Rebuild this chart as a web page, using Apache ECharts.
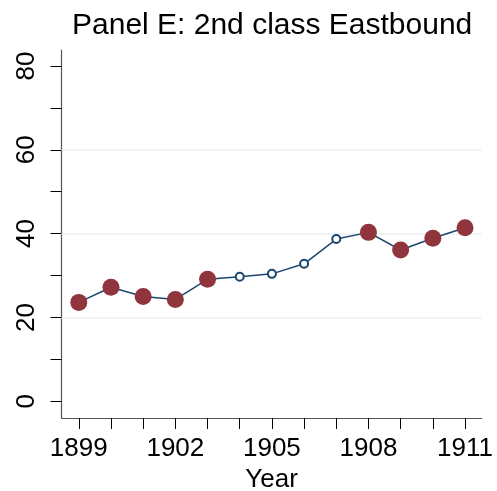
<!DOCTYPE html>
<html><head><meta charset="utf-8">
<script src="https://cdn.jsdelivr.net/npm/echarts@6/dist/echarts.min.js"></script>
<style>html,body{margin:0;padding:0;background:#fff}#c{width:497px;height:491px}</style>
</head><body><div id="c"></div>
<script>
const titleText = 'Panel E: 2nd class Eastbound';
const xName = 'Year';
const years = [1899,1900,1901,1902,1903,1904,1905,1906,1907,1908,1909,1910,1911];
const values = [23.6,27.2,25.0,24.3,29.1,29.7,30.4,32.8,38.7,40.3,36.1,38.9,41.4];
const filled = [1,1,1,1,1,0,0,0,0,1,1,1,1];
const xTicks = [1899,1900,1901,1902,1903,1904,1905,1906,1907,1908,1909,1910,1911];
const xTickLabels = [1899,1902,1905,1908,1911];
const yTicks = [0,10,20,30,40,50,60,70,80];
const yTickLabels = [0,20,40,60,80];
const yGridLines = [20,40,60];

const FONT = "'Liberation Sans', Arial, Helvetica, sans-serif";
const lineData = years.map((y,i)=>[y, values[i]]);
const dotData = years.map((y,i)=>[y, values[i]]).filter((d,i)=>filled[i]);

const chart = echarts.init(document.getElementById('c'), null, {renderer:'canvas'});
chart.setOption({
  animation:false,
  backgroundColor:'#fff',
  title:{text:titleText, left:67, top:6,
    textStyle:{fontFamily:FONT, fontSize:30, fontWeight:'normal', color:'#000'}},
  grid:{left:61.5, right:15.3, top:50, bottom:73, outerBoundsMode:'none', containLabel:false},
  xAxis:{type:'value', min:1898.463, max:1911.518,
    name:xName, nameLocation:'middle', nameGap:47,
    nameTextStyle:{fontFamily:FONT, fontSize:26, color:'#000'},
    axisLine:{show:true, onZero:false, lineStyle:{color:'#555', width:1.2}},
    axisTick:{show:true, length:11, customValues:xTicks, lineStyle:{color:'#000', width:1}},
    axisLabel:{customValues:xTickLabels, margin:18, fontFamily:FONT, fontSize:26, color:'#000',
      formatter:v=>String(v)},
    splitLine:{show:false}},
  yAxis:{type:'value', min:-3.98, max:83.8,
    axisLine:{show:true, onZero:false, lineStyle:{color:'#555', width:1.2}},
    axisTick:{show:true, length:11, customValues:yTicks, lineStyle:{color:'#000', width:1}},
    axisLabel:{customValues:yTickLabels, rotate:90, margin:22, fontFamily:FONT, fontSize:26, color:'#000',
      formatter:v=>String(v)},
    splitLine:{show:false}},
  series:[
    {type:'line', data:lineData, symbol:'emptyCircle', symbolSize:8, showSymbol:true,
     lineStyle:{color:'#1a476f', width:1.5},
     itemStyle:{color:'#1a476f', borderColor:'#1a476f', borderWidth:1.5},
     z:3,
     markLine:{silent:true, symbol:['none','none'], label:{show:false},
       lineStyle:{color:'#eaf2f3', width:1.5, type:'solid'},
       data:yGridLines.map(v=>({yAxis:v})), z:1}},
    {type:'scatter', data:dotData, symbol:'circle', symbolSize:17,
     itemStyle:{color:'#90353b', opacity:1}, z:4}
  ]
});
</script></body></html>
